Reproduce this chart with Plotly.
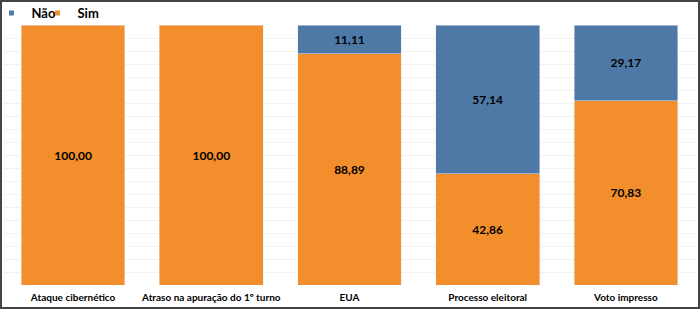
import plotly.graph_objects as go

categories = ["Ataque cibernético", "Atraso na apuração do 1º turno", "EUA", "Processo eleitoral", "Voto impresso"]
sim = [100.00, 100.00, 88.89, 42.86, 70.83]
nao = [None, None, 11.11, 57.14, 29.17]
series_names = ["Não", "Sim"]
series_colors = ["#4E79A7", "#F28E2B"]

def fmt(v):
    return "" if v is None else f"{v:.2f}".replace(".", ",")

FONT = "Lato"
label_font = dict(family=FONT, size=12, color="black", weight="bold")

fig = go.Figure()
fig.add_trace(go.Bar(
    x=categories, y=sim, name="Sim", marker_color=series_colors[1], showlegend=False,
    text=[fmt(v) for v in sim], textposition="inside", insidetextanchor="middle",
    textfont=label_font, textangle=0, hoverinfo="skip"))
fig.add_trace(go.Bar(
    x=categories, y=nao, name="Não", marker_color=series_colors[0], showlegend=False,
    text=[fmt(v) for v in nao], textposition="inside", insidetextanchor="middle",
    textfont=label_font, textangle=0, hoverinfo="skip"))
# legend entries with small square markers, one legend each for precise placement
legend_ids = ["legend", "legend2"]
for nm, col, lg in zip(series_names, series_colors, legend_ids):
    fig.add_trace(go.Scatter(x=[None], y=[None], mode="markers", name=nm, legend=lg,
                             marker=dict(symbol="square", size=5, color=col),
                             hoverinfo="skip"))

leg_common = dict(orientation="h", y=1 - 3/260, xanchor="left", yanchor="bottom",
                  font=dict(size=13, weight="bold"), itemwidth=30,
                  bgcolor="rgba(0,0,0,0)")

fig.update_layout(
    width=700, height=309, barmode="stack", bargap=0.25,
    margin=dict(l=4, r=5, t=25, b=24, autoexpand=False),
    paper_bgcolor="white", plot_bgcolor="white",
    font=dict(family=FONT, color="black"),
    legend=dict(x=-0.021 + 2/691, **leg_common),
    legend2=dict(x=-0.021 + 48/691, **leg_common),
    showlegend=True,
    xaxis=dict(showgrid=False, showline=False, ticks="", tickangle=0,
               ticklabelstandoff=5,
               tickfont=dict(size=10, weight="bold")),
    yaxis=dict(range=[0, 100], dtick=5, showgrid=True, gridcolor="#F2F2F2",
               showticklabels=False, zeroline=False, showline=False),
)
# outer border of the whole image
fig.add_shape(type="rect", xref="paper", yref="paper",
              x0=-4/691, x1=1+5/691, y0=-24/260, y1=1+25/260,
              line=dict(color="#444444", width=4), layer="above")

fig.write_html("out.html", config={"displayModeBar": False},
               post_script="document.body.style.margin='0';")
